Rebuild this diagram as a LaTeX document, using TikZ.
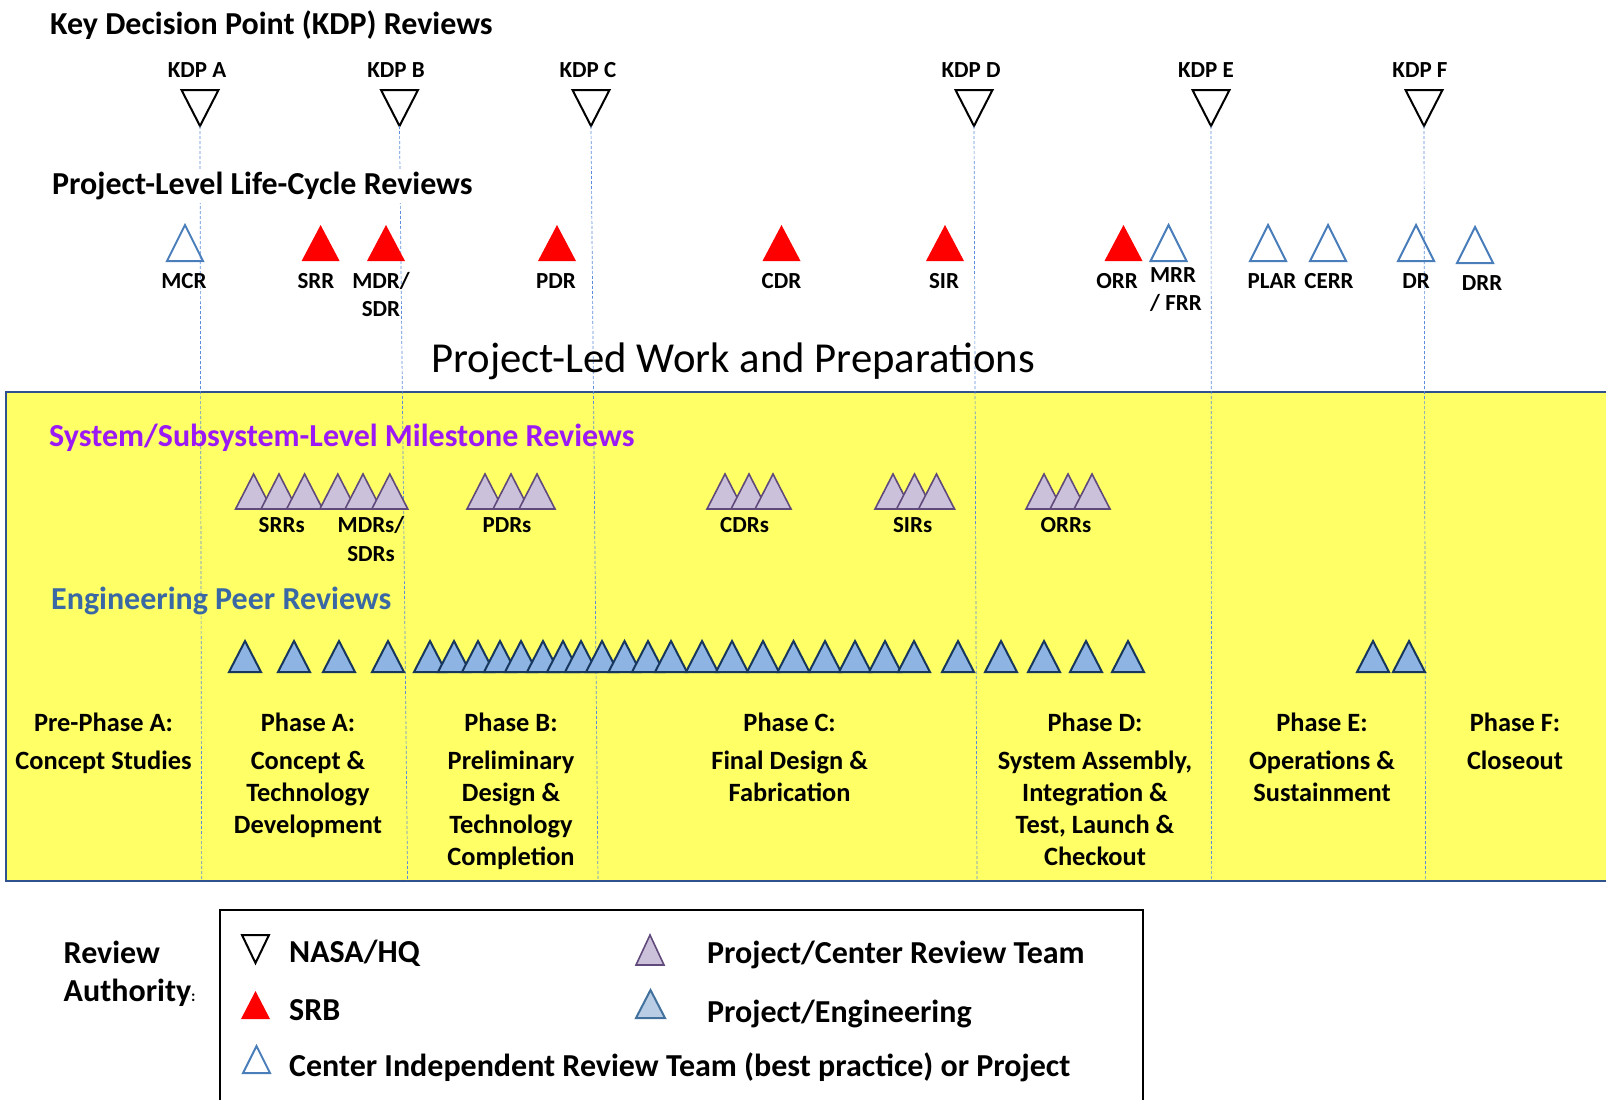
\documentclass[tikz,border=0pt]{standalone}
\usepackage{fontspec}
\setmainfont{Carlito}
\usetikzlibrary{positioning}
\definecolor{srbred}{RGB}{255,0,0}
\definecolor{cirblue}{RGB}{74,126,187}
\definecolor{pcrfill}{RGB}{204,193,218}
\definecolor{pcrline}{RGB}{96,74,123}
\definecolor{engfill}{RGB}{141,180,226}
\definecolor{engline}{RGB}{23,55,94}
\definecolor{legfill}{RGB}{185,205,229}
\definecolor{legline}{RGB}{65,113,156}
\definecolor{boxyellow}{RGB}{255,255,102}
\definecolor{boxblue}{RGB}{47,82,143}
\definecolor{guideblue}{RGB}{91,140,220}
\definecolor{sysviolet}{RGB}{155,25,245}
\definecolor{peerblue}{RGB}{58,104,165}
\begin{document}
\begin{tikzpicture}[x=1pt,y=-1pt,
  head/.style={anchor=west,inner sep=0pt,font=\fontsize{32}{38}\selectfont\bfseries},
  lbl/.style={inner sep=0pt,text height=14.8pt,text depth=0pt,font=\fontsize{23}{28}\selectfont\bfseries},
  phase/.style={anchor=north,inner sep=0pt,align=center,font=\fontsize{26.4}{32}\selectfont\bfseries},
  leg/.style={anchor=west,inner sep=0pt,font=\fontsize{32}{38}\selectfont\bfseries},
  kdptri/.style={draw=black,fill=white,line width=2pt},
  srbtri/.style={fill=srbred},
  citri/.style={draw=cirblue,line width=2pt},
  pcrtri/.style={draw=pcrline,fill=pcrfill,line width=1.6pt},
  engtri/.style={draw=engline,fill=engfill,line width=2pt},
  guide/.style={draw=guideblue,line width=0.7pt,dash pattern=on 3pt off 2pt}]
\useasboundingbox (0,0) rectangle (1606,1100);
% yellow band
\filldraw[draw=boxblue,fill=boxyellow,line width=2pt] (6,392) rectangle (1625,881);
% KDP reviews
\foreach \x/\lx/\k in {200/197/A,399.5/396/B,591/588/C,974/971/D,1211/1206/E,1424/1420/F}{
  \node[lbl] (kdp\k) at (\lx,70) {KDP \k};
  \filldraw[kdptri] (\x-18.5,90)--(\x+18.5,90)--(\x,126)--cycle;
  \coordinate (apex\k) at (\x,126);}
\foreach \k/\bx in {A/201.7,B/407.6,C/598,D/977,E/1211.6,F/1425.6}{
  \coordinate (foot\k) at (\bx,881);
  \draw[guide] (apex\k)--(foot\k);}
\node[head] (kdphead) at (50,25) {Key Decision Point (KDP) Reviews};
\node[head,fill=white,inner ysep=3pt] (lchead) at (52,186) {Project-Level Life-Cycle Reviews};
% life-cycle reviews
\foreach \x in {320.6,386,557,781.5,945,1123.5} \fill[srbtri] (\x-19,261)--(\x+19,261)--(\x,225)--cycle;
\foreach \x/\b in {185/261,1168.6/261,1268/261,1328/261,1416/261,1475/263} \draw[citri] (\x-18,\b)--(\x+18,\b)--(\x,\b-36)--cycle;
\foreach \x/\n in {184/MCR,316/SRR,556/PDR,781.5/CDR,944/SIR,1117/ORR,1272/PLAR,1329/CERR,1416/DR} \node[lbl] (lc\n) at (\x,281) {\n};
\node[lbl] (lcMDR) at (381,281) {MDR/};
\node[lbl] (lcSDR) at (381,309) {SDR};
\node[lbl] (lcMRR) at (1173,275.5) {MRR};
\node[lbl] (lcFRR) at (1176,303) {/ FRR};
\node[lbl] (lcDRR) at (1482,283) {DRR};
\node[inner sep=0pt,font=\fontsize{42.7}{50}\selectfont] (work) at (733,361.5) {Project-Led Work and Preparations};
% system/subsystem milestone reviews
\node[head,text=sysviolet] (syshead) at (49,438) {System/Subsystem-Level Milestone Reviews};
\foreach \x in {253.6,279,304.6,337.8,363,389.8,485,511,537,725,749,773,893,914.5,936.5,1044,1068,1092}
  \filldraw[pcrtri] (\x-18,509)--(\x+18,509)--(\x,474)--cycle;
\foreach \x/\n in {281.7/SRRs,507/PDRs,744.6/CDRs,912.6/SIRs,1066/ORRs} \node[lbl] (ms\n) at (\x,525) {\n};
\node[lbl] (msMDRs) at (371,525) {MDRs/};
\node[lbl] (msSDRs) at (371,554) {SDRs};
% engineering peer reviews
\node[head,text=peerblue] (enghead) at (51,601) {Engineering Peer Reviews};
\foreach \x in {245,294,339,388,430,454,478,500,521,543,563,581,602,624.5,648,671,702,732,763,793.5,825,855,885,914,958,1001,1044,1086,1128,1373,1409}
  \filldraw[engtri] (\x-16,672)--(\x+16,672)--(\x,641)--cycle;
% phases
\node[phase] (prephase) at (103.5,713) {Pre-Phase A:\\[6pt]Concept Studies};
\node[phase] (phaseA) at (308,713) {Phase A:\\[6pt]Concept \&\\Technology\\Development};
\node[phase] (phaseB) at (511,713) {Phase B:\\[6pt]Preliminary\\Design \&\\Technology\\Completion};
\node[phase] (phaseC) at (789.6,713) {Phase C:\\[6pt]Final Design \&\\Fabrication};
\node[phase] (phaseD) at (1095,713) {Phase D:\\[6pt]System Assembly,\\Integration \&\\Test, Launch \&\\Checkout};
\node[phase] (phaseE) at (1322,713) {Phase E:\\[6pt]Operations \&\\Sustainment};
\node[phase] (phaseF) at (1515,713) {Phase F:\\[6pt]Closeout};
% legend
\node[leg,align=left,font=\fontsize{32}{38}\selectfont\bfseries] (auth) at (63.5,974) {Review\\Authority{\fontsize{16}{16}\selectfont:}};
\draw[line width=2pt] (220,910) rectangle (1143,1120);
\filldraw[kdptri] (242,935)--(269,935)--(255.5,963)--cycle;
\fill[srbtri] (241,1019)--(270,1019)--(255.5,991)--cycle;
\draw[citri] (243,1073)--(270,1073)--(256.5,1046)--cycle;
\filldraw[pcrtri] (636,965)--(664,965)--(650,935)--cycle;
\filldraw[draw=legline,fill=legfill,line width=2pt] (636,1018)--(665,1018)--(650.5,990)--cycle;
\node[leg] (legnasa) at (289,953) {NASA/HQ};
\node[leg] (legsrb) at (289,1010.5) {SRB};
\node[leg] (legcir) at (289,1067.5) {Center Independent Review Team (best practice) or Project};
\node[leg] (legpcr) at (707,955) {Project/Center Review Team};
\node[leg] (legeng) at (707,1013.5) {Project/Engineering};
\end{tikzpicture}
\end{document}
